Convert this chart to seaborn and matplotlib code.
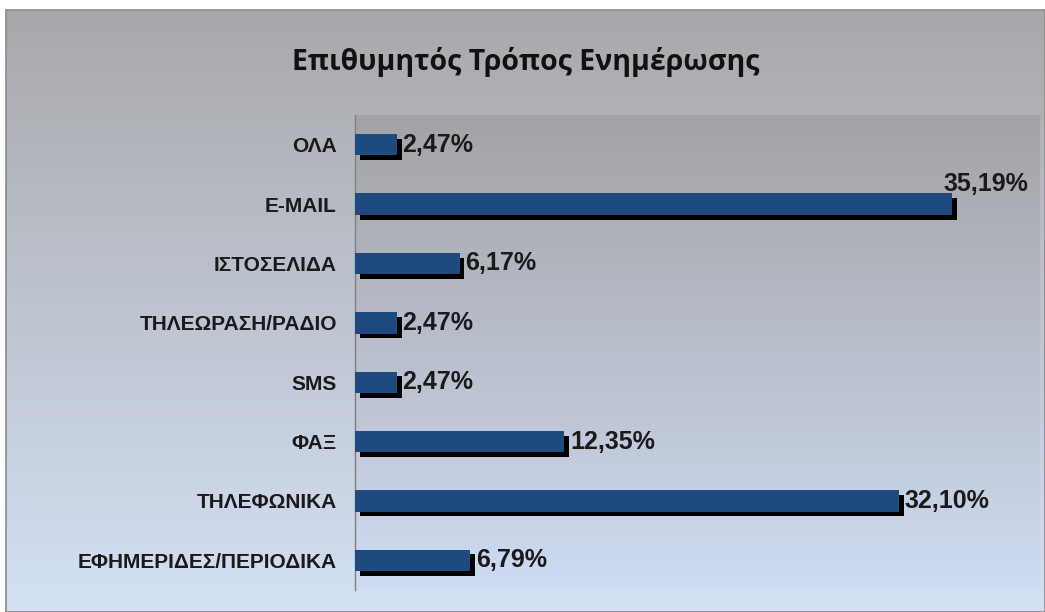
import numpy as np
import pandas as pd
import matplotlib.pyplot as plt
import matplotlib.patheffects as pe
import seaborn as sns

categories = ["ΟΛΑ", "E-MAIL", "ΙΣΤΟΣΕΛΙΔΑ", "ΤΗΛΕΩΡΑΣΗ/ΡΑΔΙΟ", "SMS",
              "ΦΑΞ", "ΤΗΛΕΦΩΝΙΚΑ", "ΕΦΗΜΕΡΙΔΕΣ/ΠΕΡΙΟΔΙΚΑ"]
percent = [2.47, 35.19, 6.17, 2.47, 2.47, 12.35, 32.10, 6.79]
title = "Επιθυμητός Τρόπος Ενημέρωσης"

df = pd.DataFrame({"cat": categories, "pct": percent})

sns.set_theme(style="white")
plt.rcParams['font.family'] = ['Liberation Sans', 'DejaVu Sans']

fig = plt.figure(figsize=(10.45, 6.12), dpi=100)

# chart background with gradient (grey at top -> light blue at bottom)
bg = fig.add_axes([6 / 1045, 0, 1 - 6 / 1045, 1 - 10 / 612])
top_c = np.array([0.66, 0.66, 0.67])
bot_c = np.array([0.83, 0.88, 0.96])
t = np.linspace(0, 1, 256)[:, None, None]
grad = top_c * (1 - t) + bot_c * t
grad = np.repeat(grad, 2, axis=1)
bg.imshow(grad, aspect='auto', extent=[0, 1, 0, 1], origin='upper')
bg.set_xlim(0, 1)
bg.set_ylim(0, 1)
bg.set_xticks([])
bg.set_yticks([])
for s in bg.spines.values():
    s.set_color('#8a8a8a')
    s.set_linewidth(1.2)
bg.text(0.5, 1 - 52 / 602, title, ha='center', va='center', fontsize=20.5,
        fontweight='bold', family=['Open Sans', 'DejaVu Sans'], color='#111111')

ax = fig.add_axes([355 / 1045, 22 / 612, 685 / 1045, 475 / 612])
pa_top = np.array([0.64, 0.64, 0.65])
pa_bot = np.array([0.81, 0.86, 0.95])
ax.imshow(np.repeat(pa_top * (1 - t) + pa_bot * t, 2, axis=1), aspect='auto',
          extent=[0, 40.4, 7.5, -0.5], zorder=0)

sns.barplot(data=df, y="cat", x="pct", orient='h', color='#1f4a80',
            saturation=1, width=0.36, linewidth=0, ax=ax, zorder=3)
for p in ax.patches:
    p.set_path_effects([pe.SimplePatchShadow(offset=(3.5, -3.5), shadow_rgbFace='black',
                                             alpha=1.0), pe.Normal()])

ax.set_xlim(0, 40.4)
ax.set_ylim(7.5, -0.5)
ax.set_xlabel("")
ax.set_ylabel("")
ax.set_xticks([])
ax.tick_params(axis='y', length=0, pad=13)
for lbl in ax.get_yticklabels():
    lbl.set_fontsize(15)
    lbl.set_fontweight('bold')
    lbl.set_color('#1a1a1a')
for s in ['top', 'right', 'bottom']:
    ax.spines[s].set_visible(False)
ax.spines['left'].set_color('#7f7f7f')
ax.spines['left'].set_linewidth(1.0)

for i, v in enumerate(percent):
    txt = f"{v:.2f}".replace('.', ',') + '%'
    if v > 34:
        ax.annotate(txt, (v, i), xytext=(-6, 6), textcoords='offset points',
                    ha='left', va='bottom', fontsize=18, fontweight='bold',
                    color='#1a1a1a')
    else:
        ax.annotate(txt, (v, i), xytext=(4, 0), textcoords='offset points',
                    ha='left', va='center', fontsize=18, fontweight='bold',
                    color='#1a1a1a')

fig.savefig("out.png", dpi=100)
